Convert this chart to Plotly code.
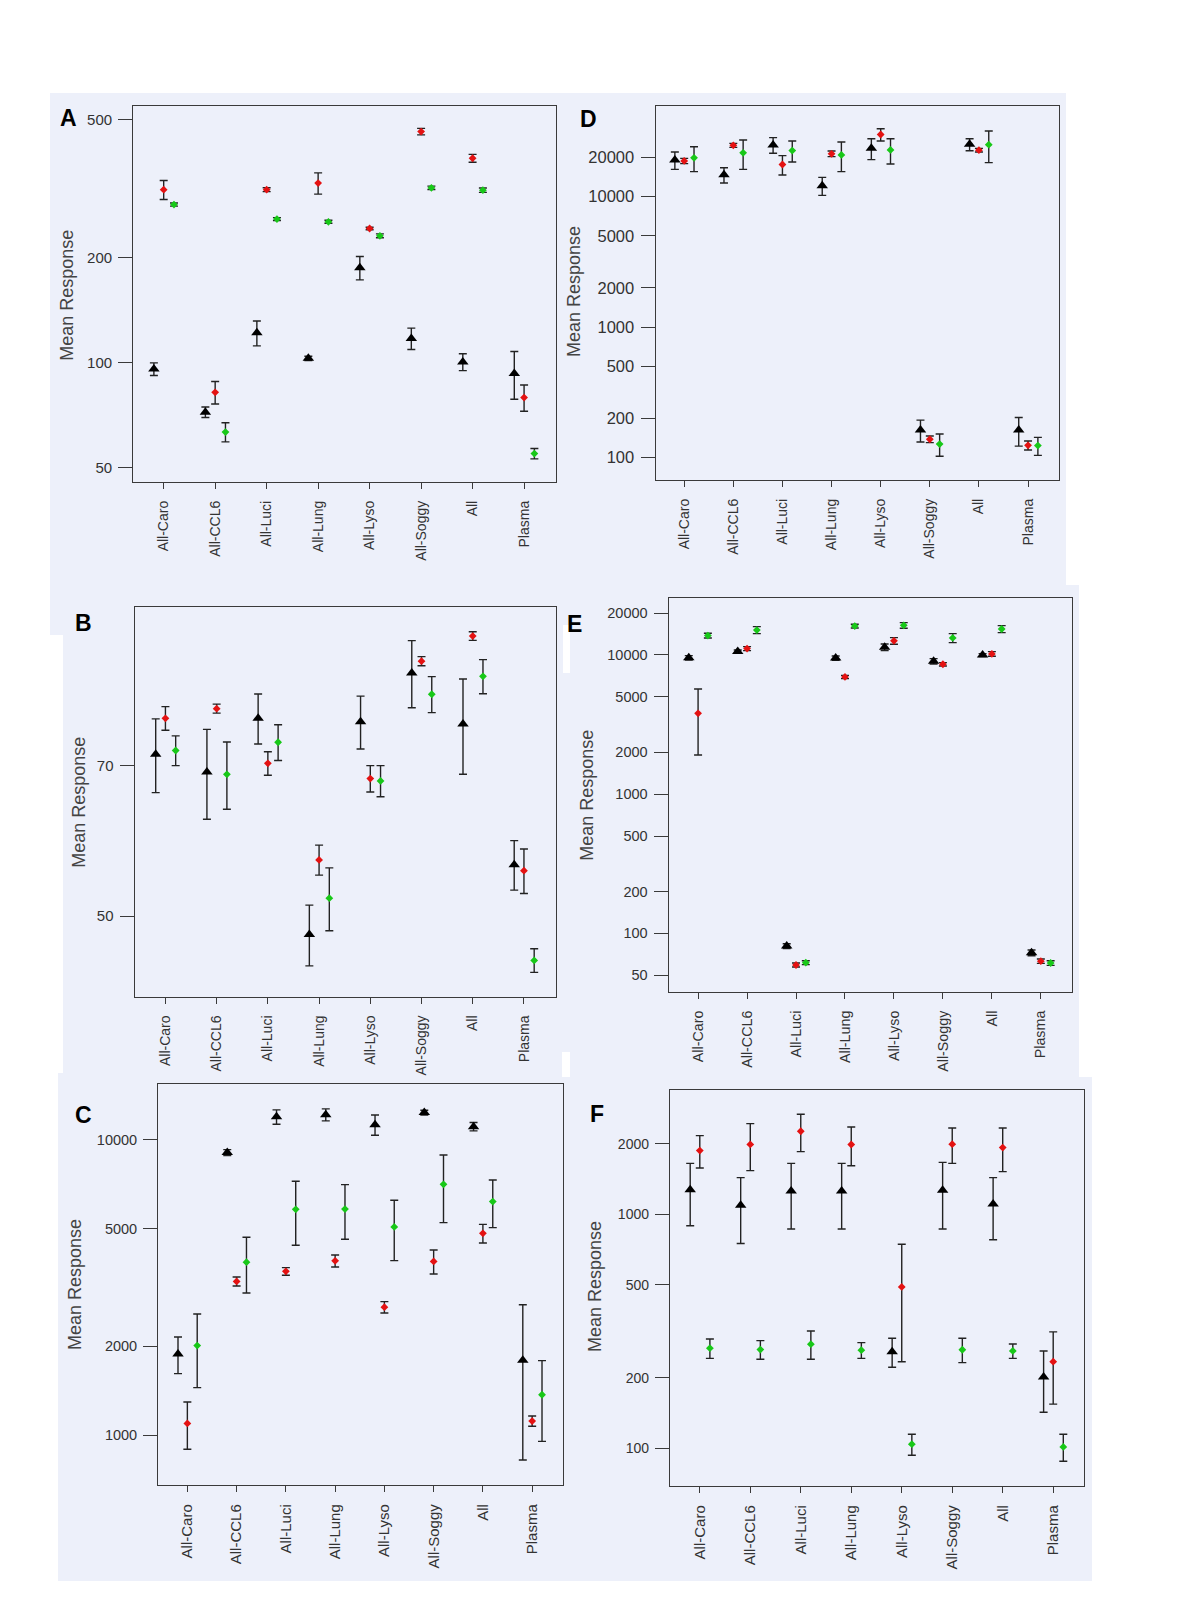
import math
import plotly.graph_objects as go

# ---------------- data ----------------
categories = ["All-Caro", "All-CCL6", "All-Luci", "All-Lung", "All-Lyso", "All-Soggy", "All", "Plasma"]

A_black = [96.0, 72.2, 121.9, 103.0, 187.5, 117.5, 100.6, 93.2]
A_black_err = [4.0, 2.5, 10.0, 1.5, 14.5, 8.3, 5.6, 14.6]
A_red = [314, 82.3, 314, 328, 243, 461, 386.5, 79.5]
A_red_err = [19.7, 6.1, 4, 23, 2, 10, 10, 6.9]
A_green = [284.6, 63.3, 258.6, 254, 231.5, 318, 313, 54.9]
A_green_err = [3, 4, 2.5, 2.5, 3, 3.5, 4.5, 1.9]

B_black = [71.8, 69.0, 77.8, 48.0, 77.2, 86.1, 76.8, 56.1]
B_black_err = [5.9, 6.9, 4.35, 3.25, 4.55, 6.45, 8.15, 3.1]
B_red = [77.8, 79.5, 70.35, 56.7, 68.0, 88.4, 93.5, 55.35]
B_red_err = [2.05, 0.8, 1.85, 1.9, 2.0, 0.9, 0.9, 2.75]
B_green = [72.4, 68.65, 73.75, 52.05, 67.65, 82.1, 85.45, 45.3]
B_green_err = [2.4, 5.15, 2.95, 3.65, 2.35, 3.3, 3.25, 1.2]

C_black = [1885, 9060, 11970, 12170, 11260, 12375, 11090, 1797]
C_black_err = [267, 212, 670, 570, 890, 225, 360, 972]
C_red = [1097, 3320, 3590, 3897, 2716, 3880, 4830, 1118]
C_red_err = [200, 117, 107, 182, 120, 362, 350, 45]
C_green = [2013, 3857, 5821, 5835, 5075, 7073, 6185, 1372]
C_green_err = [563, 824, 1423, 1225, 1172, 1823, 1135, 418]

D_black = [19120, 14710, 24940, 12155, 23545, 162, 25200, 162]
D_black_err = [2910, 1980, 3425, 1915, 4315, 31, 2660, 40]
D_red = [18800, 24780, 17650, 21340, 29990, 137.7, 22760, 123.6]
D_red_err = [880, 875, 2990, 1060, 3250, 8.1, 730, 9.9]
D_green = [19875, 21710, 22595, 20920, 22835, 126.4, 25070, 123]
D_green_err = [4315, 5500, 4145, 5360, 5025, 24.6, 6830, 19.4]

E_black = [9545, 10570, 81.1, 9500, 11365, 9014, 9975, 72.5]
E_black_err = [345, 290, 3.2, 340, 625, 400, 245, 3.4]
E_red = [3806, 11110, 59.25, 6950, 12625, 8575, 10175, 63.15]
E_red_err = [1895, 370, 1.95, 190, 695, 235, 395, 2.25]
E_green = [13780, 15105, 61.6, 16120, 16315, 13250, 15360, 61.25]
E_green_err = [530, 875, 2.0, 490, 765, 980, 890, 2.35]

F_black = [1273, 1093, 1259, 1259, 258.6, 1267, 1107, 201.5]
F_black_err = [379, 342, 393, 393, 36.7, 401, 328, 59]
F_red = [1873, 1989, 2265, 1988, 489.5, 1995, 1930, 234.5]
F_red_err = [296, 452, 412, 374, 255, 343, 408, 80]
F_green = [267.9, 264.3, 278.7, 262.7, 104.1, 263.8, 260.8, 101.4]
F_green_err = [25.5, 24.2, 38.6, 20.3, 10.7, 31.5, 18.4, 13.4]

A_ticks = [50, 100, 200, 500]
B_ticks = [50, 70]
C_ticks = [1000, 2000, 5000, 10000]
D_ticks = [100, 200, 500, 1000, 2000, 5000, 10000, 20000]
E_ticks = [50, 100, 200, 500, 1000, 2000, 5000, 10000, 20000]
F_ticks = [100, 200, 500, 1000, 2000]

# ---------------- layout helpers ----------------
OFF = 8                      # page body margin in the browser
W, H = 1200 - 2 * OFF, 1600 - 2 * OFF
BG = "#EDF0FA"
AX = "#3a3a3a"
TXT = "#333333"
FONT = "Liberation Sans, Arial, sans-serif"


def px(x):
    return (x - OFF) / W


def py(y):
    return 1 - (y - OFF) / H


panels = [
    dict(letter="A", data=(A_black, A_black_err, A_red, A_red_err, A_green, A_green_err), ticks=A_ticks,
         box=(133.3, 105.7, 556, 482), yr=(45.5, 547), xr=(-0.59, 7.62), ytf=15, xtf=14,
         lpos=(68.3, 118.3), tpos=(66.7, 295)),
    dict(letter="B", data=(B_black, B_black_err, B_red, B_red_err, B_green, B_green_err), ticks=B_ticks,
         box=(134.7, 607.3, 555.7, 996.7), yr=(41.77, 99.7), xr=(-0.6, 7.62), ytf=15, xtf=14,
         lpos=(83.0, 623.3), tpos=(78.3, 802.5)),
    dict(letter="C", data=(C_black, C_black_err, C_red, C_red_err, C_green, C_green_err), ticks=C_ticks,
         box=(158.3, 1084.3, 562.7, 1485), yr=(679, 15430), xr=(-0.59, 7.62), ytf=14.5, xtf=15,
         lpos=(83.3, 1115), tpos=(75, 1285)),
    dict(letter="D", data=(D_black, D_black_err, D_red, D_red_err, D_green, D_green_err), ticks=D_ticks,
         box=(655.7, 105.7, 1059, 480), yr=(67, 49900), xr=(-0.58, 7.63), ytf=16.5, xtf=14,
         lpos=(588.3, 119.3), tpos=(574, 292)),
    dict(letter="E", data=(E_black, E_black_err, E_red, E_red_err, E_green, E_green_err), ticks=E_ticks,
         box=(668.7, 598.3, 1071.7, 991.7), yr=(38.1, 25530), xr=(-0.6, 7.63), ytf=14.5, xtf=14.3,
         lpos=(574.5, 624), tpos=(586.7, 795)),
    dict(letter="F", data=(F_black, F_black_err, F_red, F_red_err, F_green, F_green_err), ticks=F_ticks,
         box=(670, 1089.7, 1084, 1486), yr=(69.0, 3410), xr=(-0.59, 7.61), ytf=14, xtf=15,
         lpos=(596.7, 1114.3), tpos=(595, 1287)),
]

series_style = [
    dict(offset=-0.19, marker=dict(symbol="triangle-up", size=10, color="black")),
    dict(offset=0.0, marker=dict(symbol="diamond", size=6, color="rgb(228,18,18)")),
    dict(offset=0.2, marker=dict(symbol="diamond", size=6, color="rgb(24,200,24)")),
]

fig = go.Figure()
layout = {}
annotations = []

for i, p in enumerate(panels, start=1):
    xa = "x" if i == 1 else f"x{i}"
    ya = "y" if i == 1 else f"y{i}"
    for s in range(3):
        vals = p["data"][2 * s]
        errs = p["data"][2 * s + 1]
        st = series_style[s]
        fig.add_trace(go.Scatter(
            x=[k + st["offset"] for k in range(len(categories))],
            y=vals,
            mode="markers",
            marker=st["marker"],
            error_y=dict(type="data", array=errs, visible=True, color="#222222",
                         thickness=1.4, width=4),
            xaxis=xa, yaxis=ya, showlegend=False, cliponaxis=False,
        ))
    l, t, r, b = p["box"]
    layout["xaxis" if i == 1 else f"xaxis{i}"] = dict(
        domain=[px(l), px(r)], anchor=ya, range=list(p["xr"]),
        tickmode="array", tickvals=list(range(len(categories))), ticktext=categories,
        tickangle=-90, ticks="outside", ticklen=6, tickwidth=1.4, tickcolor=AX,
        showline=True, linecolor=AX, linewidth=1.4, mirror=True,
        showgrid=False, zeroline=False, ticklabelstandoff=6,
        tickfont=dict(size=p["xtf"], color=TXT, family=FONT),
    )
    layout["yaxis" if i == 1 else f"yaxis{i}"] = dict(
        domain=[py(b), py(t)], anchor=xa, type="log",
        range=[math.log10(p["yr"][0]), math.log10(p["yr"][1])],
        tickmode="array", tickvals=p["ticks"], ticktext=[str(v) for v in p["ticks"]],
        ticks="outside", ticklen=14, tickwidth=1.4, tickcolor=AX,
        showline=True, linecolor=AX, linewidth=1.4, mirror=True,
        showgrid=False, zeroline=False, ticklabelstandoff=3,
        tickfont=dict(size=p["ytf"], color=TXT, family=FONT),
    )
    annotations.append(dict(
        text=p["letter"], x=px(p["lpos"][0]), y=py(p["lpos"][1]), xref="paper", yref="paper",
        xanchor="center", yanchor="middle", showarrow=False,
        font=dict(size=23, color="black", family="Liberation Sans, Arial", weight="bold"),
    ))
    annotations.append(dict(
        text="Mean Response", x=px(p["tpos"][0]), y=py(p["tpos"][1]), xref="paper", yref="paper",
        xanchor="center", yanchor="middle", showarrow=False, textangle=-90,
        font=dict(size=18, color="#444444", family=FONT),
    ))

bg_rects = [
    (50, 93, 566, 635),     # A
    (566, 93, 1066, 585),   # D
    (63, 590, 566, 1075),   # B
    (566, 585, 1079, 1077), # E
    (58, 1073, 577, 1581),  # C
    (577, 1077, 1092, 1581),# F
]
white_rects = [
    (563, 625, 570, 673),
    (562, 1052, 570, 1077),
]
shapes = []
for (x0, y0, x1, y1) in bg_rects:
    shapes.append(dict(type="rect", xref="paper", yref="paper", x0=px(x0), x1=px(x1),
                       y0=py(y1), y1=py(y0), fillcolor=BG, line=dict(width=0), layer="below"))
for (x0, y0, x1, y1) in white_rects:
    shapes.append(dict(type="rect", xref="paper", yref="paper", x0=px(x0), x1=px(x1),
                       y0=py(y1), y1=py(y0), fillcolor="white", line=dict(width=0), layer="below"))

fig.update_layout(
    width=W, height=H, margin=dict(l=0, r=0, t=0, b=0, pad=0),
    paper_bgcolor="white", plot_bgcolor=BG,
    font=dict(family=FONT, color=TXT),
    shapes=shapes, annotations=annotations,
    **layout,
)

fig.write_html("out.html")
